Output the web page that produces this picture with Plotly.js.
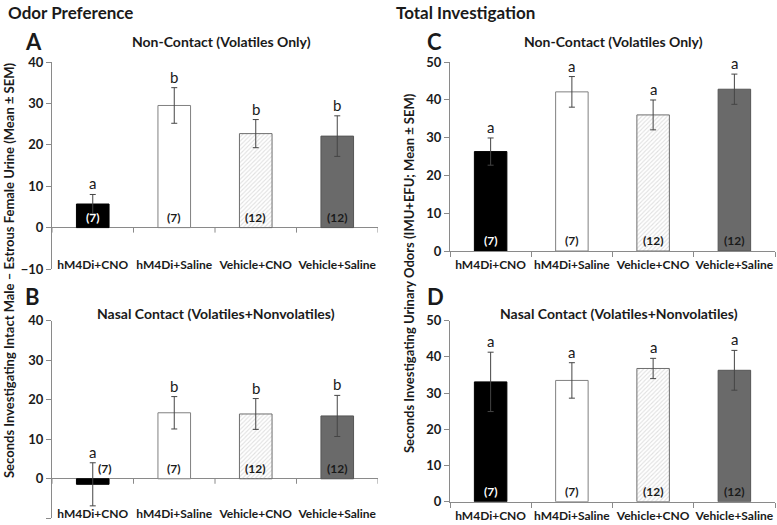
<!DOCTYPE html>
<html>
<head>
<meta charset="utf-8">
<script src="https://cdn.plot.ly/plotly-3.0.1.min.js"></script>
<style>html,body{margin:0;padding:0;background:#fff;}#chart{width:777px;height:525px;}</style>
</head>
<body>
<div id="chart"></div>
<script>
// ---- data ----
const categories = ['hM4Di+CNO', 'hM4Di+Saline', 'Vehicle+CNO', 'Vehicle+Saline'];
const groupN = ['(7)', '(7)', '(12)', '(12)'];

const meanA = [5.7, 29.5, 22.7, 22.1];
const semA = [2.3, 4.3, 3.4, 4.9];
const lettersA = ['a', 'b', 'b', 'b'];

const meanB = [-1.4, 16.7, 16.4, 15.9];
const semB = [5.45, 4.1, 3.9, 5.2];
const lettersB = ['a', 'b', 'b', 'b'];

const meanC = [26.3, 42.1, 36.0, 42.8];
const semC = [3.6, 4.05, 3.95, 4.0];
const lettersC = ['a', 'a', 'a', 'a'];

const meanD = [33.1, 33.5, 36.8, 36.3];
const semD = [8.2, 4.9, 2.8, 5.5];
const lettersD = ['a', 'a', 'a', 'a'];

const yTicksAB = [-10, 0, 10, 20, 30, 40];
const yTicksCD = [0, 10, 20, 30, 40, 50];

// ---- styles ----
const FONT = 'Lato, "Open Sans", sans-serif';
const TXT = '#1a1a1a';
const AX = '#8a8a8a';
const barFill = ['#000000', '#ffffff', '#e0e0e0', '#6a6a6a'];
const barLine = ['#000000', '#808080', '#6e6e6e', '#555555'];
const barPattern = ['', '', '/', ''];
const nColor = ['#ffffff', TXT, TXT, TXT];

const W = 777, H = 525;
const px = v => v / W;
const py = v => 1 - v / H;

const panels = [
  {key: '', mean: meanA, sem: semA, letters: lettersA, range: [-10, 40], ticks: yTicksAB,
   xd: [px(52), px(378)], yd: [py(269), py(62)], zeroMid: true},
  {key: '2', mean: meanB, sem: semB, letters: lettersB, range: [-10, 40], ticks: yTicksAB,
   xd: [px(52), px(378)], yd: [py(518.3), py(320.7)], zeroMid: true},
  {key: '3', mean: meanC, sem: semC, letters: lettersC, range: [0, 50], ticks: yTicksCD,
   xd: [px(450), px(775)], yd: [py(251), py(62)], zeroMid: false},
  {key: '4', mean: meanD, sem: semD, letters: lettersD, range: [0, 50], ticks: yTicksCD,
   xd: [px(450), px(775)], yd: [py(501.7), py(320.7)], zeroMid: false}
];

const traces = [];
const annotations = [];
const shapes = [];
const layout = {
  width: W, height: H,
  margin: {l: 0, r: 0, t: 0, b: 0},
  paper_bgcolor: '#fff', plot_bgcolor: '#fff',
  showlegend: false,
  font: {family: FONT, color: TXT},
  bargap: 0.6
};

panels.forEach(p => {
  const xa = 'x' + p.key, ya = 'y' + p.key;
  traces.push({
    type: 'bar', x: categories, y: p.mean, xaxis: xa, yaxis: ya, width: 0.4,
    marker: {color: barFill, line: {color: barLine, width: 1},
             pattern: {shape: barPattern, bgcolor: '#e4e4e4', fgcolor: '#8f8f8f', size: 3, solidity: 0.35}},
    error_y: {type: 'data', array: p.sem, visible: true, color: '#454545', thickness: 1, width: 3},
    hoverinfo: 'skip'
  });
  layout['xaxis' + p.key] = {
    domain: p.xd, anchor: ya, type: 'category', range: [-0.5, 3.5],
    showgrid: false, zeroline: false, fixedrange: true, automargin: false,
    showline: !p.zeroMid, linecolor: AX, linewidth: 1,
    ticks: p.zeroMid ? '' : 'outside', tickson: 'boundaries', ticklen: 5, tickcolor: AX,
    tickangle: 0,
    tickfont: {family: FONT, size: 12, color: TXT, weight: 'bold'},
    ticklabelstandoff: p.zeroMid ? -13 : 3
  };
  layout['yaxis' + p.key] = {
    domain: p.yd, anchor: xa, range: p.range, tickvals: p.ticks,
    showgrid: false, fixedrange: true, automargin: false,
    zeroline: p.zeroMid, zerolinecolor: AX, zerolinewidth: 1,
    showline: true, linecolor: AX, linewidth: 1,
    ticks: 'outside', ticklen: 5, tickcolor: AX,
    tickfont: {family: FONT, size: 13, color: TXT, weight: 'bold'}
  };
  if (p.zeroMid) {
    for (let i = 0; i <= categories.length; i++) {
      shapes.push({type: 'line', xref: xa, yref: ya, x0: i - 0.5, x1: i - 0.5,
        ysizemode: 'pixel', yanchor: 0, y0: 0, y1: -5, line: {color: AX, width: 1}});
    }
  }
  categories.forEach((c, i) => {
    annotations.push({xref: xa, yref: ya, x: c, y: p.mean[i] + p.sem[i], text: p.letters[i],
      showarrow: false, yanchor: 'bottom', yshift: 0,
      font: {family: FONT, size: 15, color: TXT}});
    annotations.push({xref: xa, yref: ya, x: c, y: 0, text: groupN[i],
      showarrow: false, yanchor: 'bottom', yshift: 1, xshift: p.mean[i] < 0 ? 12 : 0,
      font: {family: FONT, size: 12, color: p.mean[i] < 0 ? TXT : nColor[i], weight: 'bold'}});
  });
});

const titleFont = (s, w) => ({family: FONT, size: s, color: TXT, weight: w || 'bold'});
const paperText = (x, y, text, size, xanchor, extra) => Object.assign({
  xref: 'paper', yref: 'paper', x: px(x), y: py(y), text: text, showarrow: false,
  xanchor: xanchor || 'center', yanchor: 'middle', font: titleFont(size)}, extra || {});

annotations.push(paperText(6, 12, 'Odor Preference', 17, 'left'));
annotations.push(paperText(394, 12, 'Total Investigation', 17, 'left'));
annotations.push(paperText(23, 41, 'A', 22, 'left'));
annotations.push(paperText(425, 41, 'C', 22, 'left'));
annotations.push(paperText(23, 296, 'B', 22, 'left'));
annotations.push(paperText(425, 296, 'D', 22, 'left'));
annotations.push(paperText(221, 41, 'Non-Contact (Volatiles Only)', 14));
annotations.push(paperText(613, 41, 'Non-Contact (Volatiles Only)', 14));
annotations.push(paperText(216, 313, 'Nasal Contact (Volatiles+Nonvolatiles)', 14));
annotations.push(paperText(619, 313, 'Nasal Contact (Volatiles+Nonvolatiles)', 14));
annotations.push(paperText(9, 271, 'Seconds Investigating Intact Male – Estrous Female Urine (Mean ± SEM)', 13, 'center', {textangle: -90}));
annotations.push(paperText(409, 273, 'Seconds Investigating Urinary Odors (IMU+EFU; Mean ± SEM)', 13, 'center', {textangle: -90}));

layout.annotations = annotations;
layout.shapes = shapes;

Plotly.newPlot('chart', traces, layout, {staticPlot: true, displayModeBar: false});
</script>
</body>
</html>
